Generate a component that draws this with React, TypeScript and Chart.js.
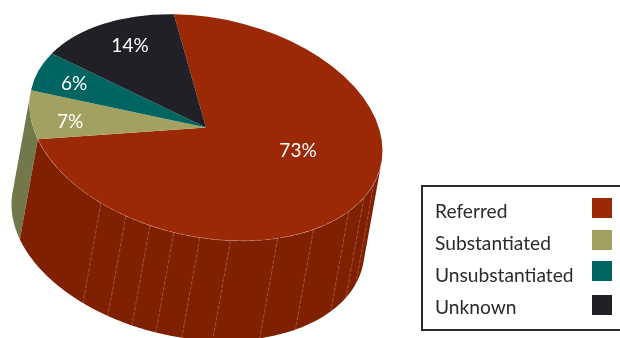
import React, { useEffect, useRef } from "react";
import { Chart, registerables } from "chart.js";

Chart.register(...registerables);

const categories = ["Referred", "Substantiated", "Unsubstantiated", "Unknown"];
const shares = [73, 7, 6, 14];
const shareLabels = ["73%", "7%", "6%", "14%"];
const topColors = ["#9c2906", "#a3a161", "#006560", "#212026"];
const wallColors = ["#802002", "#73784a", "#004c48", "#151418"];
// Seam positions on the pie's front wall, in degrees clockwise from the top of the circle.
const wallSeams = [108, 116.5, 126, 142.5, 156, 172, 182, 190.5, 198.5, 207, 216.5];

// Tilted-disc projection: the unit circle maps to an oblique ellipse, pushed down by the wall depth.
const CX = 206;
const CY = 127.5;
const RX = 176.5;
const SHEAR = 23;
const RY = 111;
const DEPTH_X = -18;
const DEPTH_Y = 100;

// The wall faces the viewer between these two tangent angles (half a turn apart).
const WALL_START = Math.atan2(DEPTH_X * RY, DEPTH_X * SHEAR - RX * DEPTH_Y);
const FRONT_FROM = WALL_START < 0 ? WALL_START + Math.PI : WALL_START;
const FRONT_TO = FRONT_FROM + Math.PI;

const project = (angle: number) => {
  const u = Math.cos(angle);
  const v = Math.sin(angle);
  return { x: CX + RX * u, y: CY + SHEAR * u + RY * v };
};

const tiltedPie = {
  id: "tiltedPie",
  beforeDatasetsDraw(chart: any) {
    const { ctx } = chart;
    const arcs = chart.getDatasetMeta(0).data;

    // Side walls, only over the part of each slice that faces the viewer.
    [1, 2, 3, 0].forEach((i) => {
      const from = Math.max(arcs[i].startAngle, FRONT_FROM);
      const to = Math.min(arcs[i].endAngle, FRONT_TO);
      if (to <= from) return;
      const steps = Math.ceil((to - from) * 60);
      ctx.beginPath();
      for (let s = 0; s <= steps; s++) {
        const p = project(from + ((to - from) * s) / steps);
        if (s === 0) ctx.moveTo(p.x, p.y);
        else ctx.lineTo(p.x, p.y);
      }
      for (let s = steps; s >= 0; s--) {
        const p = project(from + ((to - from) * s) / steps);
        ctx.lineTo(p.x + DEPTH_X, p.y + DEPTH_Y);
      }
      ctx.closePath();
      ctx.fillStyle = wallColors[i];
      ctx.fill();
    });

    // Thin seams across the front wall.
    ctx.save();
    ctx.strokeStyle = "rgba(226,170,146,0.6)";
    ctx.lineWidth = 0.6;
    ctx.setLineDash([4, 1.5]);
    wallSeams.forEach((deg) => {
      const p = project(((deg - 90) * Math.PI) / 180);
      ctx.beginPath();
      ctx.moveTo(p.x, p.y);
      ctx.lineTo(p.x + DEPTH_X, p.y + DEPTH_Y);
      ctx.stroke();
    });
    ctx.restore();

    // Slices are drawn by Chart.js as a circle; flatten them onto the tilted disc.
    const { x: ax, y: ay, outerRadius: r } = arcs[0];
    const a = RX / r;
    const b = SHEAR / r;
    const d = RY / r;
    ctx.save();
    ctx.transform(a, b, 0, d, CX - a * ax, CY - b * ax - d * ay);
  },
  afterDatasetsDraw(chart: any) {
    const { ctx } = chart;
    const arcs = chart.getDatasetMeta(0).data;
    ctx.restore();

    // Faint light rim where the top disc meets the front wall.
    const to = arcs[0].endAngle;
    ctx.save();
    ctx.strokeStyle = "rgba(226,170,146,0.55)";
    ctx.lineWidth = 0.6;
    ctx.setLineDash([6, 2]);
    ctx.beginPath();
    const steps = 200;
    for (let s = 0; s <= steps; s++) {
      const p = project(FRONT_FROM + ((to - FRONT_FROM) * s) / steps);
      if (s === 0) ctx.moveTo(p.x, p.y);
      else ctx.lineTo(p.x, p.y);
    }
    ctx.stroke();
    ctx.restore();

    // Percentage labels on the top face.
    ctx.save();
    ctx.fillStyle = "#ffffff";
    ctx.font = '19px Lato, "Open Sans", sans-serif';
    ctx.textAlign = "center";
    ctx.textBaseline = "middle";
    const spots: [number, number][] = [[298, 151], [70, 122], [74, 84], [130, 46]];
    shareLabels.forEach((text, i) => ctx.fillText(text, spots[i][0], spots[i][1]));
    ctx.restore();
  },
};

export default function App() {
  const canvasRef = useRef<HTMLCanvasElement | null>(null);

  useEffect(() => {
    const chart = new Chart(canvasRef.current as HTMLCanvasElement, {
      type: "pie",
      data: {
        labels: categories,
        datasets: [
          {
            data: shares,
            backgroundColor: topColors,
            borderWidth: 0,
            clip: false,
          } as any,
        ],
      },
      options: {
        responsive: false,
        animation: false,
        rotation: -10.5,
        plugins: { legend: { display: false }, tooltip: { enabled: false } },
      },
      plugins: [tiltedPie],
    });
    return () => chart.destroy();
  }, []);

  const swatchTops = [198, 230, 261, 295];
  const textMiddles = [211, 243, 275, 307];

  return (
    <div style={{ position: "absolute", left: 0, top: 0, width: 620, height: 338, overflow: "hidden", background: "#fff" }}>
      <canvas ref={canvasRef} width={620} height={338} style={{ display: "block" }} />
      <div
        style={{
          position: "absolute",
          left: 421,
          top: 185,
          width: 210,
          height: 146,
          boxSizing: "border-box",
          border: "2px solid #2b2b2e",
        }}
      />
      {categories.map((name, i) => (
        <React.Fragment key={name}>
          <div
            style={{
              position: "absolute",
              left: 435,
              top: textMiddles[i] - 12,
              lineHeight: "24px",
              fontFamily: 'Lato, "Open Sans", sans-serif',
              fontSize: 19.2,
              color: "#2b2b2e",
              whiteSpace: "nowrap",
            }}
          >
            {name}
          </div>
          <div
            style={{
              position: "absolute",
              left: 592,
              top: swatchTops[i],
              width: 20,
              height: 20,
              background: topColors[i],
            }}
          />
        </React.Fragment>
      ))}
    </div>
  );
}
